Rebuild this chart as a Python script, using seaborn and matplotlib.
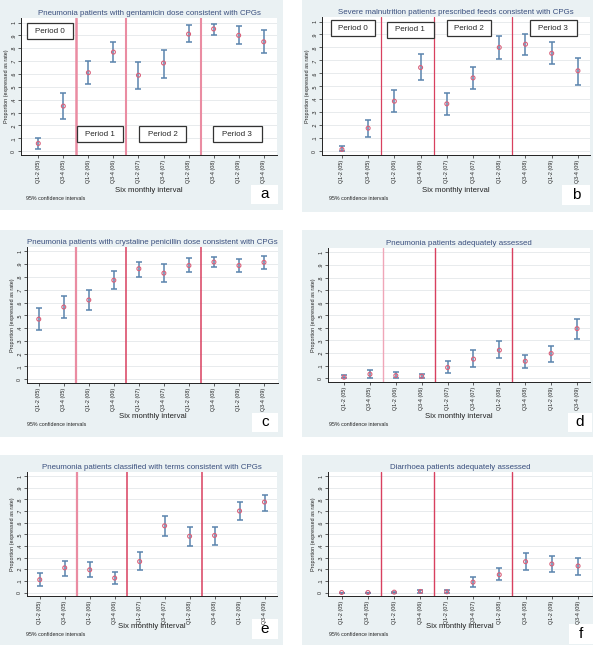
import numpy as np
import pandas as pd
import matplotlib
matplotlib.use('Agg')
import matplotlib.pyplot as plt
import seaborn as sns
from matplotlib.patches import Rectangle

sns.set_theme(style='white')
plt.rcParams['font.family'] = ['Liberation Sans', 'DejaVu Sans']

intervals = ['Q1-2 (05)', 'Q3-4 (05)', 'Q1-2 (06)', 'Q3-4 (06)', 'Q1-2 (07)',
             'Q3-4 (07)', 'Q1-2 (08)', 'Q3-4 (08)', 'Q1-2 (09)', 'Q3-4 (09)']
period_breaks = [1.5, 3.5, 6.5]
yticks = [0, .1, .2, .3, .4, .5, .6, .7, .8, .9, 1]
ytick_labels = ['0', '.1', '.2', '.3', '.4', '.5', '.6', '.7', '.8', '.9', '1']

# panel a
gent_title = 'Pneumonia patients with gentamicin dose consistent with CPGs'
gent_rate = [0.06, 0.35, 0.61, 0.77, 0.59, 0.685, 0.91, 0.95, 0.90, 0.85]
gent_lo = [0.013, 0.25, 0.52, 0.69, 0.48, 0.57, 0.85, 0.90, 0.83, 0.76]
gent_hi = [0.10, 0.45, 0.70, 0.845, 0.695, 0.79, 0.98, 0.99, 0.97, 0.945]

# panel b
feed_title = 'Severe malnutrition patients prescribed feeds consistent with CPGs'
feed_rate = [0.013, 0.177, 0.385, 0.645, 0.365, 0.565, 0.80, 0.825, 0.755, 0.62]
feed_lo = [0.0, 0.11, 0.30, 0.545, 0.28, 0.48, 0.71, 0.745, 0.675, 0.51]
feed_hi = [0.04, 0.24, 0.47, 0.75, 0.45, 0.65, 0.885, 0.905, 0.84, 0.715]

# panel c
pen_title = 'Pneumonia patients with crystaline penicillin dose consistent with CPGs'
pen_rate = [0.47, 0.565, 0.62, 0.775, 0.865, 0.83, 0.89, 0.917, 0.89, 0.915]
pen_lo = [0.385, 0.48, 0.54, 0.71, 0.80, 0.76, 0.84, 0.875, 0.84, 0.865]
pen_hi = [0.557, 0.655, 0.70, 0.845, 0.917, 0.90, 0.945, 0.96, 0.94, 0.965]

# panel d
passess_title = 'Pneumonia patients adequately assessed'
passess_rate = [0.008, 0.032, 0.021, 0.016, 0.085, 0.152, 0.223, 0.135, 0.197, 0.394]
passess_lo = [0.0, 0.0, 0.0, 0.0, 0.04, 0.09, 0.157, 0.08, 0.13, 0.311]
passess_hi = [0.024, 0.064, 0.048, 0.037, 0.133, 0.223, 0.293, 0.186, 0.26, 0.473]

# panel e
class_title = 'Pneumonia patients classified with terms consistent with CPGs'
class_rate = [0.11, 0.212, 0.195, 0.124, 0.266, 0.573, 0.483, 0.49, 0.70, 0.777]
class_lo = [0.054, 0.138, 0.133, 0.07, 0.192, 0.483, 0.40, 0.412, 0.627, 0.703]
class_hi = [0.17, 0.274, 0.26, 0.175, 0.345, 0.655, 0.565, 0.565, 0.774, 0.84]

# panel f
diar_title = 'Diarrhoea patients adequately assessed'
diar_rate = [0.0, 0.0, 0.003, 0.009, 0.006, 0.089, 0.153, 0.265, 0.245, 0.228]
diar_lo = [0.0, 0.0, 0.0, 0.0, 0.0, 0.046, 0.107, 0.193, 0.176, 0.153]
diar_hi = [0.0, 0.0, 0.006, 0.02, 0.023, 0.135, 0.213, 0.337, 0.317, 0.297]

W, H = 600, 647
fig = plt.figure(figsize=(6, 6.47), dpi=100)
fig.patch.set_facecolor('white')

BG = '#eaf1f3'
TITLE_C = '#3a4f7e'
ERR_C = '#5a84ad'
PT_C = '#d9607a'
PINK = '#ea8ca2'
RED = '#d8405f'


def fig_rect(x0, y0, x1, y1):
    # pixel box (top-left origin) -> figure fraction
    return [x0 / W, 1 - y1 / H, (x1 - x0) / W, (y1 - y0) / H]


def panel(bg_px, ax_px, xlim, title, rate, lo, hi, letter, letter_px, note_px,
          xlab_y, periods=None, lines=((PINK, 1.5),) * 3):
    fig.patches.append(Rectangle((bg_px[0] / W, 1 - bg_px[3] / H),
                                 (bg_px[2] - bg_px[0]) / W, (bg_px[3] - bg_px[1]) / H,
                                 transform=fig.transFigure, facecolor=BG,
                                 edgecolor='none', zorder=-10))
    ax = fig.add_axes(fig_rect(*ax_px))
    ax.set_facecolor('white')
    df = pd.DataFrame({'x': np.arange(len(intervals)), 'rate': rate,
                       'lo': lo, 'hi': hi})
    yerr = np.vstack([df['rate'] - df['lo'], df['hi'] - df['rate']])
    ax.errorbar(df['x'], df['rate'], yerr=yerr, fmt='none', ecolor=ERR_C,
                elinewidth=1.1, capsize=2, capthick=1.1, zorder=3)
    sns.scatterplot(data=df, x='x', y='rate', ax=ax, marker='o', s=8,
                    facecolor='none', edgecolor=PT_C, linewidth=0.8, zorder=4)
    for b, (c, lw) in zip(period_breaks, lines):
        ax.axvline(b, color=c, lw=lw, zorder=2)
    ax.set_xlim(*xlim)
    ax.set_ylim(-0.03, 1.035)
    ax.set_yticks(yticks)
    ax.set_yticklabels(ytick_labels, rotation=90, va='center', fontsize=3.8)
    ax.set_xticks(df['x'])
    ax.set_xticklabels(intervals, rotation=90, fontsize=3.9)
    ax.yaxis.grid(True, color='#e4e8ea', lw=0.6)
    ax.xaxis.grid(False)
    for s in ['top', 'right']:
        ax.spines[s].set_visible(False)
    for s in ['left', 'bottom']:
        ax.spines[s].set_color('#222222')
        ax.spines[s].set_linewidth(0.7)
    ax.tick_params(axis='both', length=2, width=0.5, pad=1.5, colors='#222222',
                   left=True, bottom=True)
    ax.set_xlabel('')
    ax.set_ylabel('Proportion (expressed as rate)', fontsize=3.9, labelpad=1.5,
                  color='#222222')
    ax.set_title(title, fontsize=5.7, color=TITLE_C, pad=2.5)
    xc = (ax_px[0] + ax_px[2]) / 2
    fig.text(xc / W, 1 - xlab_y / H, 'Six monthly interval', fontsize=5.6,
             ha='center', va='center', color='#222222')
    fig.text(note_px[0] / W, 1 - note_px[1] / H, '95% confidence intervals',
             fontsize=3.8, color='#222222', va='center')
    lx0, ly0, lx1, ly1 = letter_px
    fig.patches.append(Rectangle((lx0 / W, 1 - ly1 / H), (lx1 - lx0) / W,
                                 (ly1 - ly0) / H, transform=fig.transFigure,
                                 facecolor='white', edgecolor='none', zorder=-5))
    fig.text((lx0 + lx1) / 2 / W, 1 - (ly0 + ly1) / 2 / H, letter, fontsize=11,
             ha='center', va='center', color='black')
    if periods:
        for label, x0, x1, y0, y1 in periods:
            ax.add_patch(Rectangle((x0, y0), x1 - x0, y1 - y0, facecolor='white',
                                   edgecolor='#333333', lw=0.9, zorder=5,
                                   clip_on=False))
            ax.text((x0 + x1) / 2, (y0 + y1) / 2, label, fontsize=5.8,
                    ha='center', va='center', zorder=6)
    return ax


panel((0, 0, 283, 210), (21, 18, 277, 155), (-0.69, 9.53), gent_title,
      gent_rate, gent_lo, gent_hi, 'a', (251, 185, 278, 204), (26, 199), 190,
      periods=[('Period 0', -0.47, 1.37, 0.87, 0.995),
               ('Period 1', 1.56, 3.37, 0.07, 0.194),
               ('Period 2', 4.04, 5.90, 0.07, 0.194),
               ('Period 3', 6.97, 8.93, 0.07, 0.194)],
      lines=((PINK, 1.8), (PINK, 1.5), (PINK, 1.5)))

panel((302, 0, 593, 212), (322, 17, 590, 155), (-0.76, 9.46), feed_title,
      feed_rate, feed_lo, feed_hi, 'b', (562, 185, 590, 205), (329, 199), 190,
      periods=[('Period 0', -0.41, 1.27, 0.89, 1.01),
               ('Period 1', 1.72, 3.50, 0.875, 0.995),
               ('Period 2', 3.99, 5.67, 0.89, 1.01),
               ('Period 3', 7.17, 8.96, 0.89, 1.01)],
      lines=((RED, 0.9), (RED, 0.9), (RED, 0.9)))

panel((0, 230, 283, 437), (27, 247, 278, 383), (-0.47, 9.56), pen_title,
      pen_rate, pen_lo, pen_hi, 'c', (252, 413, 278, 432), (27, 425), 416,
      lines=((PINK, 1.6), (RED, 1.1), (RED, 1.1)))

panel((302, 230, 593, 437), (328, 248, 590, 382), (-0.62, 9.5), passess_title,
      passess_rate, passess_lo, passess_hi, 'd', (568, 413, 592, 432), (329, 424),
      416, lines=(('#f0a6b8', 1.0), (RED, 1.0), (RED, 1.0)))

panel((0, 455, 283, 645), (27, 472, 277, 596), (-0.51, 9.5), class_title,
      class_rate, class_lo, class_hi, 'e', (252, 619, 278, 639), (26, 635), 627,
      lines=((PINK, 1.6), (RED, 1.1), (RED, 1.1)))

panel((302, 455, 593, 645), (328, 472, 592, 596), (-0.52, 9.53), diar_title,
      diar_rate, diar_lo, diar_hi, 'f', (569, 624, 593, 644), (329, 634), 627,
      lines=((RED, 1.0), (RED, 1.0), (RED, 1.0)))

plt.savefig('out.png', dpi=100, facecolor='white')
